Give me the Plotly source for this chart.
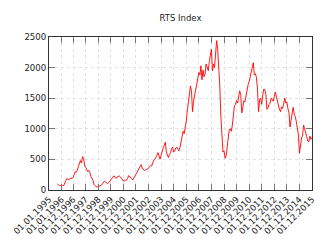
import plotly.graph_objects as go
import pandas as pd

# Monthly RTS index values (approx.), Sep 1995 .. Dec 2015
v1995 = [100, 82, 72, 75]
v1996 = [68, 72, 70, 100, 150, 185, 175, 170, 185, 195, 190, 205]
v1997 = [250, 300, 290, 320, 380, 430, 480, 440, 545, 520, 400, 370]
v1998 = [330, 300, 320, 290, 220, 190, 160, 90, 60, 52, 50, 58]
v1999 = [55, 62, 78, 100, 125, 145, 130, 110, 105, 118, 145, 175]
v2000 = [205, 215, 232, 215, 190, 210, 225, 230, 218, 195, 168, 145]
v2001 = [165, 152, 158, 185, 235, 212, 195, 185, 165, 195, 235, 258]
v2002 = [285, 305, 345, 375, 415, 360, 335, 320, 325, 335, 340, 355]
v2003 = [385, 400, 390, 440, 485, 500, 525, 565, 610, 545, 505, 565]
v2004 = [640, 690, 730, 780, 620, 560, 530, 580, 610, 680, 700, 620]
v2005 = [640, 690, 700, 665, 640, 700, 790, 860, 960, 920, 1010, 1125]
v2006 = [1300, 1420, 1510, 1700, 1620, 1280, 1450, 1560, 1620, 1720, 1830, 1920]
v2007 = [1880, 2030, 1800, 1960, 1850, 1900, 2060, 1980, 1950, 2100, 2250, 2300]
v2008 = [1950, 2060, 2000, 2200, 2440, 2300, 2050, 1700, 1200, 800, 620, 640]
v2009 = [520, 560, 680, 780, 980, 1000, 960, 1060, 1250, 1380, 1400, 1460]
v2010 = [1420, 1500, 1620, 1560, 1260, 1350, 1460, 1440, 1560, 1620, 1720, 1770]
v2011 = [1850, 1960, 2050, 2080, 1880, 1900, 1840, 1650, 1280, 1480, 1500, 1400]
v2012 = [1560, 1650, 1640, 1560, 1320, 1340, 1400, 1420, 1500, 1460, 1450, 1530]
v2013 = [1600, 1520, 1450, 1400, 1310, 1280, 1360, 1330, 1460, 1500, 1420, 1440]
v2014 = [1330, 1260, 1030, 1150, 1260, 1350, 1240, 1200, 1120, 1030, 900, 600]
v2015 = [760, 850, 880, 1060, 1000, 900, 870, 800, 790, 880, 830, 860]

values = (v1995 + v1996 + v1997 + v1998 + v1999 + v2000 + v2001 + v2002 + v2003 +
          v2004 + v2005 + v2006 + v2007 + v2008 + v2009 + v2010 + v2011 + v2012 +
          v2013 + v2014 + v2015)
dates = pd.date_range("1995-09-01", periods=len(values), freq="MS")

tick_dates = ["1995-01-01", "1996-01-01"] + [f"{y}-12-01" for y in range(1996, 2016)]
tick_text = ["01.01.1995", "01.01.1996"] + [f"01.12.{y}" for y in range(1996, 2016)]
y_ticks = [0, 500, 1000, 1500, 2000, 2500]

font = dict(family="DejaVu Sans", size=8.6, color="#222")

fig = go.Figure()
fig.add_trace(go.Scatter(x=dates, y=values, mode="lines",
                         line=dict(color="#ff0000", width=0.9), showlegend=False))

fig.update_layout(
    width=330, height=248,
    margin=dict(l=43, r=18, t=37, b=54),
    paper_bgcolor="white", plot_bgcolor="white",
    font=font,
    title=dict(text="RTS Index", x=0.5, xref="paper", xanchor="center",
               y=1 - 18 / 248, yref="container", yanchor="middle",
               font=dict(family="DejaVu Sans", size=8.5, color="#222")),
)
fig.update_xaxes(
    type="date", range=["1995-01-01", "2015-12-01"],
    tickvals=tick_dates, ticktext=tick_text, tickangle=-45,
    ticks="inside", ticklen=6, tickcolor="#777", tickwidth=1,
    showline=True, linecolor="#333", linewidth=1, mirror="ticks",
    showgrid=True, gridcolor="#e2e2e2", gridwidth=0.6, griddash="dot",
    zeroline=False, tickfont=font,
)
fig.update_yaxes(
    range=[0, 2500], tickvals=y_ticks,
    ticks="inside", ticklen=6, tickcolor="#777", tickwidth=1,
    showline=True, linecolor="#333", linewidth=1, mirror="ticks",
    showgrid=True, gridcolor="#e2e2e2", gridwidth=0.6, griddash="dot",
    zeroline=False, tickfont=font,
)

fig.write_html("out.html")
